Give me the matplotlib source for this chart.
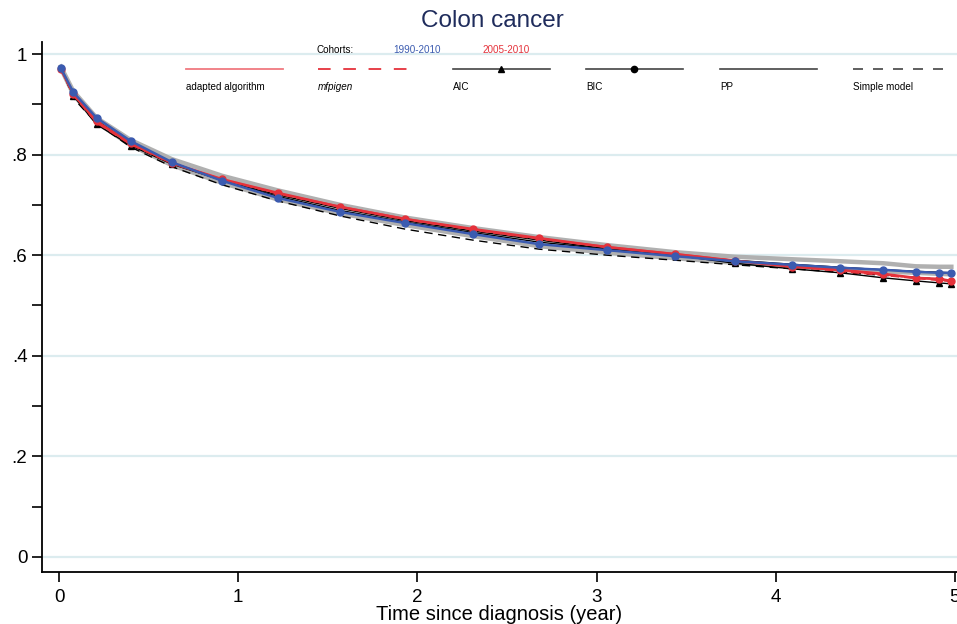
"""Colon cancer: relative survival curves by cohort and model selection method."""
import matplotlib
matplotlib.use("Agg")
import matplotlib.pyplot as plt
from matplotlib.ticker import FixedLocator

plt.rcParams["font.family"] = ["Liberation Sans", "DejaVu Sans"]

t = [0.01, 0.08, 0.21, 0.40, 0.63, 0.91, 1.22, 1.57, 1.93, 2.31,
     2.68, 3.06, 3.44, 3.77, 4.09, 4.36, 4.60, 4.78, 4.91, 4.98]

# grey reference curves (observed)
grey_hi = [0.975, 0.926, 0.873, 0.829, 0.791, 0.758, 0.729, 0.700, 0.675, 0.654,
           0.636, 0.620, 0.606, 0.597, 0.592, 0.588, 0.584, 0.578, 0.577, 0.577]
grey_lo = [0.972, 0.920, 0.864, 0.819, 0.779, 0.744, 0.711, 0.683, 0.660, 0.638,
           0.618, 0.605, 0.594, 0.585, 0.578, 0.573, 0.568, 0.565, 0.563, 0.562]

# 1990-2010 cohort
bic_90 = [0.972, 0.924, 0.873, 0.827, 0.785, 0.748, 0.714, 0.686, 0.664, 0.642,
          0.622, 0.610, 0.598, 0.588, 0.581, 0.575, 0.571, 0.567, 0.565, 0.565]
pp_90 = [0.973, 0.922, 0.868, 0.823, 0.783, 0.749, 0.717, 0.689, 0.666, 0.645,
         0.626, 0.612, 0.600, 0.590, 0.582, 0.576, 0.571, 0.568, 0.566, 0.565]

# 2005-2010 cohort
bic_05 = [0.970, 0.921, 0.866, 0.823, 0.783, 0.751, 0.724, 0.696, 0.672, 0.652,
          0.634, 0.616, 0.602, 0.589, 0.577, 0.571, 0.563, 0.555, 0.553, 0.549]
adapt_05 = [0.971, 0.919, 0.864, 0.821, 0.784, 0.752, 0.723, 0.697, 0.673, 0.651,
            0.633, 0.617, 0.603, 0.590, 0.579, 0.569, 0.561, 0.555, 0.551, 0.549]
mfp_05 = [0.970, 0.918, 0.863, 0.820, 0.782, 0.751, 0.722, 0.695, 0.671, 0.650,
          0.632, 0.616, 0.602, 0.589, 0.578, 0.568, 0.560, 0.554, 0.550, 0.548]
aic_05 = [0.972, 0.917, 0.860, 0.818, 0.781, 0.749, 0.720, 0.693, 0.669, 0.648,
          0.630, 0.613, 0.600, 0.584, 0.573, 0.565, 0.555, 0.549, 0.545, 0.543]

# simple model
simple = [0.975, 0.912, 0.862, 0.815, 0.776, 0.740, 0.708, 0.678, 0.652, 0.630,
          0.612, 0.600, 0.590, 0.581, 0.573, 0.566, 0.560, 0.556, 0.553, 0.551]

BLUE = "#3b5bb0"
RED = "#e5323b"
GREY = "#b0b0b0"
GRID = "#dcecef"

fig = plt.figure(figsize=(9.57, 6.24), dpi=100)
ax = fig.add_axes([0.0439, 0.0833, 0.956, 0.8494])

ax.plot(t, grey_hi, color=GREY, lw=3.2, zorder=2)
ax.plot(t, grey_lo, color=GREY, lw=3.2, zorder=2)
ax.plot(t, simple, color="black", lw=1, ls=(0, (6, 4)), zorder=3)
ax.plot(t, pp_90, color="black", lw=1, zorder=3)
ax.plot(t, aic_05, color="black", lw=1, marker="^", ms=4, zorder=3)
ax.plot(t, bic_90, color=BLUE, lw=1.8, marker="o", ms=5, zorder=5)
ax.plot(t, adapt_05, color=RED, lw=1.2, zorder=4, alpha=0.8)
ax.plot(t, mfp_05, color=RED, lw=1.2, ls=(0, (5, 3)), zorder=4)
ax.plot(t, bic_05, color=RED, lw=1.8, marker="o", ms=5, zorder=4)

ax.set_xlim(-0.095, 5.011)
ax.set_ylim(-0.03, 1.024)
ax.xaxis.set_major_locator(FixedLocator([0, 1, 2, 3, 4, 5]))
ax.yaxis.set_major_locator(FixedLocator([0, 0.2, 0.4, 0.6, 0.8, 1.0]))
ax.yaxis.set_minor_locator(FixedLocator([0.1, 0.3, 0.5, 0.7, 0.9]))
ax.set_yticklabels(["0", ".2", ".4", ".6", ".8", "1"])
ax.tick_params(axis="both", which="both", direction="out", length=7, width=1.2,
               labelsize=13.5, color="black")
ax.tick_params(axis="x", pad=5)
for y in [0, 0.2, 0.4, 0.6, 0.8, 1.0]:
    ax.axhline(y, color=GRID, lw=1.6, zorder=0)

for side in ("top", "right"):
    ax.spines[side].set_visible(False)
for side in ("left", "bottom"):
    ax.spines[side].set_linewidth(1.3)

ax.set_xlabel("Time since diagnosis (year)", fontsize=14.5, labelpad=-0.5)
fig.text(0.514, 0.966, "Colon cancer", ha="center", va="center",
         fontsize=17.5, color="#1f2c5c")

# legend drawn in axes fraction
tr = ax.transAxes
def fx(px):
    return (px - 42) / 915.0
def fy(py):
    return (572 - py) / 530.0

fs = 7.1
ax.text(fx(317), fy(50), "Cohorts:", fontsize=fs, transform=tr, va="center")
ax.text(fx(393), fy(50), "1990-2010", fontsize=fs, color=BLUE, transform=tr, va="center")
ax.text(fx(483), fy(50), "2005-2010", fontsize=fs, color=RED, transform=tr, va="center")

items = [
    (186, "adapted algorithm", dict(color="#f07a80", lw=1.3), None, "normal"),
    (318, "mfpigen", dict(color=RED, lw=1.3, ls=(0, (7, 7))), None, "italic"),
    (453, "AIC", dict(color="#444444", lw=1.2), "^", "normal"),
    (586, "BIC", dict(color="#444444", lw=1.2), "o", "normal"),
    (720, "PP", dict(color="#444444", lw=1.2), None, "normal"),
    (853, "Simple model", dict(color="#444444", lw=1.2, ls=(0, (6, 6))), None, "normal"),
]
for x0, lab, kw, mk, style in items:
    ax.plot([fx(x0), fx(x0 + 97)], [fy(69), fy(69)], transform=tr,
            clip_on=False, **kw)
    if mk:
        ax.plot([fx(x0 + 48)], [fy(69)], marker=mk, ms=4.5, color="black",
                transform=tr, clip_on=False)
    ax.text(fx(x0), fy(87), lab, fontsize=fs, transform=tr, va="center",
            style=style)

fig.savefig("out.png", dpi=100)
